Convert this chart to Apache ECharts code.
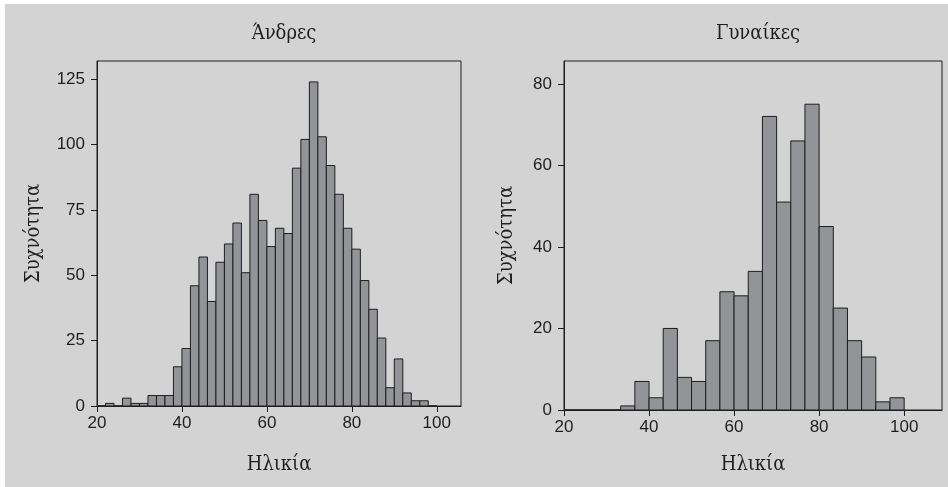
<!DOCTYPE html>
<html>
<head>
<meta charset="utf-8">
<script src="https://cdn.jsdelivr.net/npm/echarts@6/dist/echarts.min.js"></script>
<style>
html,body{margin:0;padding:0;background:#ffffff;}
#bg{position:absolute;left:5px;top:4px;width:943px;height:483px;background:#d3d3d3;}
#chart{position:absolute;left:0;top:0;width:948px;height:487px;}
</style>
</head>
<body>
<div id="bg"></div>
<div id="chart"></div>
<script>
// ---- data ----
var titles = ['Άνδρες', 'Γυναίκες'];
var xName = 'Ηλικία';
var yName = 'Συχνότητα';
var xTicks = [20, 40, 60, 80, 100];
var menYTicks = [0, 25, 50, 75, 100, 125];
var womenYTicks = [0, 20, 40, 60, 80];
var menBinStart = 20;
var menBinWidth = 2;
var menCounts = [0, 1, 0, 3, 1, 1, 4, 4, 4, 15,
                 22, 46, 57, 40, 55, 62, 70, 51, 81, 71,
                 61, 68, 66, 91, 102, 124, 103, 92, 81, 68,
                 60, 48, 37, 26, 7, 18, 5, 2, 2, 0];
var womenBinStart = 20;
var womenBinWidth = 10 / 3;
var womenCounts = [0, 0, 0, 0, 1, 7, 3, 20, 8, 7, 17, 29,
                   28, 34, 72, 51, 66, 75, 45, 25, 17, 13, 2, 3];

function bins(start, width, counts) {
  return counts.map(function (c, i) { return [start + i * width, start + (i + 1) * width, c]; });
}

function renderItem(params, api) {
  var x0 = api.value(0), x1 = api.value(1), v = api.value(2);
  var p0 = api.coord([x0, 0]);
  var p1 = api.coord([x1, v]);
  return {
    type: 'rect',
    shape: { x: p0[0], y: p1[1], width: p1[0] - p0[0], height: p0[1] - p1[1] },
    style: { fill: '#939498', stroke: '#1e1e1e', lineWidth: 1 }
  };
}

var tickFont = '"Liberation Sans Narrow", "Liberation Sans", Arial, sans-serif';
var serifFont = '"DejaVu Serif Condensed", "DejaVu Serif", "Liberation Serif", serif';
var ink = '#1e1e1e';
var nameSize = 20;

function xAxisCfg(idx, max, gap) {
  return {
    gridIndex: idx, type: 'value', min: 20, max: max,
    name: xName, nameLocation: 'middle', nameGap: gap,
    nameTextStyle: { fontFamily: serifFont, fontSize: nameSize, color: ink },
    axisLine: { show: true, lineStyle: { color: ink, width: 1 } },
    axisTick: { show: true, length: 6, lineStyle: { color: ink }, customValues: xTicks },
    axisLabel: { show: true, margin: 9, fontFamily: tickFont, fontSize: 17, color: ink, customValues: xTicks },
    splitLine: { show: false }
  };
}
function yAxisCfg(idx, max, ticks, gap) {
  return {
    gridIndex: idx, type: 'value', min: 0, max: max,
    name: yName, nameLocation: 'middle', nameGap: gap,
    nameTextStyle: { fontFamily: serifFont, fontSize: nameSize, color: ink },
    axisLine: { show: true, lineStyle: { color: ink, width: 1 } },
    axisTick: { show: true, length: 6, lineStyle: { color: ink }, customValues: ticks },
    axisLabel: { show: true, margin: 12, fontFamily: tickFont, fontSize: 17, color: ink, customValues: ticks },
    splitLine: { show: false }
  };
}

var chart = echarts.init(document.getElementById('chart'), null, { renderer: 'canvas' });
chart.setOption({
  backgroundColor: 'transparent',
  animation: false,
  title: [
    { text: titles[0], left: 279, top: 19, textAlign: 'center',
      textStyle: { fontFamily: serifFont, fontSize: nameSize, fontWeight: 'normal', color: ink } },
    { text: titles[1], left: 753, top: 19, textAlign: 'center',
      textStyle: { fontFamily: serifFont, fontSize: nameSize, fontWeight: 'normal', color: ink } }
  ],
  grid: [
    { left: 97, right: 487, top: 61, bottom: 81, show: true, borderColor: ink, borderWidth: 1, backgroundColor: 'transparent' },
    { left: 564, right: 6, top: 61, bottom: 77, show: true, borderColor: ink, borderWidth: 1, backgroundColor: 'transparent' }
  ],
  xAxis: [xAxisCfg(0, 105.7, 49), xAxisCfg(1, 108.9, 45)],
  yAxis: [yAxisCfg(0, 132, menYTicks, 53), yAxisCfg(1, 85.6, womenYTicks, 47)],
  series: [
    { type: 'custom', xAxisIndex: 0, yAxisIndex: 0, renderItem: renderItem,
      encode: { x: [0, 1], y: 2 }, data: bins(menBinStart, menBinWidth, menCounts) },
    { type: 'custom', xAxisIndex: 1, yAxisIndex: 1, renderItem: renderItem,
      encode: { x: [0, 1], y: 2 }, data: bins(womenBinStart, womenBinWidth, womenCounts) }
  ]
});
</script>
</body>
</html>
